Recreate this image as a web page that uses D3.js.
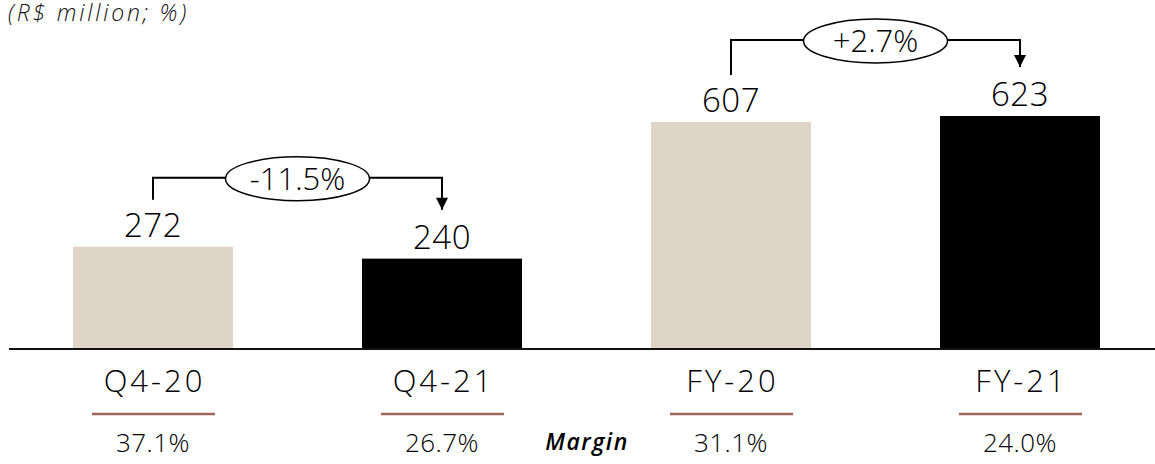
<!DOCTYPE html>
<html>
<head>
<meta charset="utf-8">
<script src="https://cdn.jsdelivr.net/npm/d3@7"></script>
<style>
  html, body { margin: 0; padding: 0; background: #fff; }
  svg { display: block; font-family: "Open Sans", "Noto Sans", sans-serif; font-weight: 350; }
</style>
</head>
<body>
<svg id="chart" width="1155" height="464"></svg>
<script>
// Quarter and full-year comparison, R$ million, with margin row
const categories = ["Q4-20", "Q4-21", "FY-20", "FY-21"];
const values = [272, 240, 607, 623];
const margins = ["37.1%", "26.7%", "31.1%", "24.0%"];
const periodColors = ["#ddd6c8", "#000000", "#ddd6c8", "#000000"];
const changeFrom = ["Q4-20", "FY-20"];
const changeTo = ["Q4-21", "FY-21"];
const changeLabels = ["-11.5%", "+2.7%"];

const svg = d3.select("#chart");
const baseY = 348;

const x = d3.scaleBand()
  .domain(categories)
  .range([8.5, 1164.5])
  .paddingInner(0.4464)
  .paddingOuter(0.2232);

const y = d3.scaleLinear()
  .domain([0, 623])
  .range([baseY, 116]);

const cx = c => x(c) + x.bandwidth() / 2;

// subtitle
svg.append("text")
  .attr("x", 8).attr("y", 21)
  .attr("font-size", 23)
  .attr("font-style", "italic")
  .attr("letter-spacing", 2.8)
  .attr("fill", "#111")
  .text("(R$ million; %)");

// bars
svg.selectAll("rect.bar")
  .data(categories)
  .join("rect")
  .attr("class", "bar")
  .attr("x", c => x(c))
  .attr("width", x.bandwidth())
  .attr("y", (c, i) => y(values[i]))
  .attr("height", (c, i) => baseY - y(values[i]))
  .attr("fill", (c, i) => periodColors[i]);

// value labels
svg.selectAll("text.val")
  .data(categories)
  .join("text")
  .attr("class", "val")
  .attr("x", c => cx(c))
  .attr("y", (c, i) => y(values[i]) - 10)
  .attr("text-anchor", "middle")
  .attr("font-size", 33)
  .attr("letter-spacing", 0.5)
  .attr("fill", "#000")
  .text((c, i) => values[i]);

// baseline
svg.append("line")
  .attr("x1", 9).attr("x2", 1155)
  .attr("y1", baseY + 1).attr("y2", baseY + 1)
  .attr("stroke", "#111").attr("stroke-width", 2);

// category labels
svg.selectAll("text.cat")
  .data(categories)
  .join("text")
  .attr("class", "cat")
  .attr("x", c => cx(c) + 1.5)
  .attr("y", 392)
  .attr("text-anchor", "middle")
  .attr("font-size", 31)
  .attr("letter-spacing", 3)
  .attr("fill", "#000")
  .text(c => c);

// separators under category labels
svg.selectAll("line.sep")
  .data(categories)
  .join("line")
  .attr("class", "sep")
  .attr("x1", c => cx(c) - 61)
  .attr("x2", c => cx(c) + 62)
  .attr("y1", 414).attr("y2", 414)
  .attr("stroke", "#a0665c").attr("stroke-width", 2.5);

// margin values
svg.selectAll("text.margin")
  .data(categories)
  .join("text")
  .attr("class", "margin")
  .attr("x", c => cx(c))
  .attr("y", 452)
  .attr("text-anchor", "middle")
  .attr("font-size", 26)
  .attr("letter-spacing", 0.5)
  .attr("fill", "#000")
  .text((c, i) => margins[i]);

svg.append("text")
  .attr("x", 587).attr("y", 450)
  .attr("text-anchor", "middle")
  .attr("font-size", 23)
  .attr("font-style", "italic")
  .attr("font-weight", 600)
  .attr("letter-spacing", 1.5)
  .attr("fill", "#000")
  .text("Margin");

// arrow head
svg.append("defs").append("marker")
  .attr("id", "arrow")
  .attr("viewBox", "0 0 10 10")
  .attr("refX", 10).attr("refY", 5)
  .attr("markerWidth", 7).attr("markerHeight", 6)
  .attr("markerUnits", "strokeWidth")
  .attr("orient", "auto")
  .append("path")
  .attr("d", "M0,0 L10,5 L0,10 Z")
  .attr("fill", "#000");

// change brackets: bracket height above the taller bar of each pair
const bracketLift = [69, 76];
changeLabels.forEach((label, k) => {
  const i0 = categories.indexOf(changeFrom[k]);
  const i1 = categories.indexOf(changeTo[k]);
  const x0 = cx(changeFrom[k]), x1 = cx(changeTo[k]);
  const level = Math.min(y(values[i0]), y(values[i1])) - bracketLift[k];
  const startY = y(values[i0]) - 47;
  const endY = y(values[i1]) - 49;
  const mid = (x0 + x1) / 2;

  svg.append("path")
    .attr("d", `M${x0},${startY} V${level} H${x1} V${endY}`)
    .attr("fill", "none")
    .attr("stroke", "#000")
    .attr("stroke-width", 2)
    .attr("marker-end", "url(#arrow)");

  svg.append("ellipse")
    .attr("cx", mid).attr("cy", level + 1)
    .attr("rx", 72).attr("ry", 22)
    .attr("fill", "#fff")
    .attr("stroke", "#000").attr("stroke-width", 1.5);

  svg.append("text")
    .attr("x", mid).attr("y", level + 12)
    .attr("text-anchor", "middle")
    .attr("font-size", 31)
    .attr("fill", "#000")
    .text(label);
});
</script>
</body>
</html>
